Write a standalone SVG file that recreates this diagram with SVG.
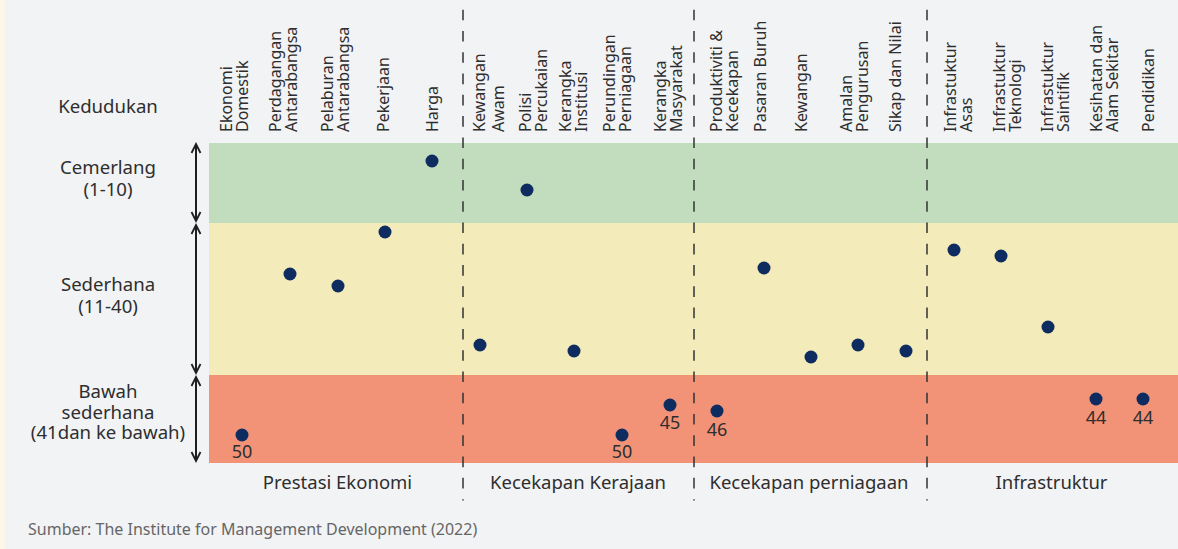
<svg xmlns="http://www.w3.org/2000/svg" width="1178" height="549" viewBox="0 0 1178 549">
<style>
.t{font-family:"Noto Sans","Open Sans","DejaVu Sans",sans-serif;fill:#2e2e2e}
.h{font-size:16px}
.l{font-size:18.6px;text-anchor:middle}
.v{font-size:18px;text-anchor:middle}
.c{font-size:18.5px;text-anchor:middle}
.s{font-size:16px;fill:#666}
.dot{fill:#0e2c60}
.dash{stroke:#333;stroke-width:1.5;stroke-dasharray:10.6 10.68;fill:none}
.arr{stroke:#1e1e1e;stroke-width:2;fill:none;marker-start:url(#ah);marker-end:url(#ah)}
</style>
<defs>
<marker id="ah" viewBox="-10 -6 12 12" refX="0" refY="0" markerWidth="12" markerHeight="12" markerUnits="userSpaceOnUse" orient="auto-start-reverse">
<polyline points="-9,-4.5 0,0 -9,4.5" fill="none" stroke="#1e1e1e" stroke-width="1.8"/>
</marker>
</defs>
<rect x="0" y="0" width="1178" height="549" fill="#f2f3f5"/>
<rect x="0" y="0" width="5" height="549" fill="#fcf7e6"/>
<g id="bands">
<rect x="209" y="143" width="969" height="80" fill="#c1ddbd"/>
<rect x="209" y="223" width="969" height="152" fill="#f3ebb9"/>
<rect x="209" y="375" width="969" height="88" fill="#f29378"/>
</g>
<g id="axis-labels">
<text class="t l" x="108" y="113">Kedudukan</text>
<text class="t l" x="108" y="174">Cemerlang</text>
<text class="t l" x="108" y="196">(1-10)</text>
<text class="t l" x="108" y="290.5">Sederhana</text>
<text class="t l" x="108" y="312.5">(11-40)</text>
<text class="t l" x="108" y="398">Bawah</text>
<text class="t l" x="108" y="418.5">sederhana</text>
<text class="t l" x="108" y="439">(41dan ke bawah)</text>
</g>
<g id="connectors">
<line class="arr" x1="196" y1="144" x2="196" y2="221"/>
<line class="arr" x1="196" y1="225" x2="196" y2="373"/>
<line class="arr" x1="196" y1="377" x2="196" y2="461"/>
<line class="dash" x1="463" y1="9.7" x2="463" y2="500.5"/>
<line class="dash" x1="694" y1="9.7" x2="694" y2="500.5"/>
<line class="dash" x1="927" y1="9.7" x2="927" y2="500.5"/>
</g>
<g id="n-ekonomi-domestik">
<text class="t h" transform="translate(231.5,132) rotate(-90)"><tspan x="0" y="0">Ekonomi</tspan><tspan x="0" y="16">Domestik</tspan></text>
<circle class="dot" cx="242" cy="435" r="6.5"/>
<text class="t v" x="242" y="458">50</text>
</g>
<g id="n-perdagangan">
<text class="t h" transform="translate(281,132) rotate(-90)"><tspan x="0" y="0">Perdagangan</tspan><tspan x="0" y="16">Antarabangsa</tspan></text>
<circle class="dot" cx="290" cy="274" r="6.5"/>
</g>
<g id="n-pelaburan">
<text class="t h" transform="translate(332.5,132) rotate(-90)"><tspan x="0" y="0">Pelaburan</tspan><tspan x="0" y="16">Antarabangsa</tspan></text>
<circle class="dot" cx="338" cy="286" r="6.5"/>
</g>
<g id="n-pekerjaan">
<text class="t h" transform="translate(389,132) rotate(-90)">Pekerjaan</text>
<circle class="dot" cx="385" cy="232" r="6.5"/>
</g>
<g id="n-harga">
<text class="t h" transform="translate(437.5,132) rotate(-90)">Harga</text>
<circle class="dot" cx="432" cy="161" r="6.5"/>
</g>
<g id="n-kewangan-awam">
<text class="t h" transform="translate(485,132) rotate(-90)"><tspan x="0" y="0">Kewangan</tspan><tspan x="0" y="18.5">Awam</tspan></text>
<circle class="dot" cx="480" cy="345" r="6.5"/>
</g>
<g id="n-polisi-percukaian">
<text class="t h" transform="translate(531,132) rotate(-90)"><tspan x="0" y="0">Polisi</tspan><tspan x="0" y="16">Percukaian</tspan></text>
<circle class="dot" cx="527" cy="190" r="6.5"/>
</g>
<g id="n-kerangka-institusi">
<text class="t h" transform="translate(571,132) rotate(-90)"><tspan x="0" y="0">Kerangka</tspan><tspan x="0" y="16">Institusi</tspan></text>
<circle class="dot" cx="574" cy="351" r="6.5"/>
</g>
<g id="n-perundingan-perniagaan">
<text class="t h" transform="translate(614.5,132) rotate(-90)"><tspan x="0" y="0">Perundingan</tspan><tspan x="0" y="16">Perniagaan</tspan></text>
<circle class="dot" cx="622" cy="435" r="6.5"/>
<text class="t v" x="622" y="458">50</text>
</g>
<g id="n-kerangka-masyarakat">
<text class="t h" transform="translate(665.5,132) rotate(-90)"><tspan x="0" y="0">Kerangka</tspan><tspan x="0" y="16">Masyarakat</tspan></text>
<circle class="dot" cx="670" cy="405" r="6.5"/>
<text class="t v" x="670" y="429">45</text>
</g>
<g id="n-produktiviti">
<text class="t h" transform="translate(722,132) rotate(-90)"><tspan x="0" y="0">Produktiviti &amp;</tspan><tspan x="0" y="16">Kecekapan</tspan></text>
<circle class="dot" cx="717" cy="411" r="6.5"/>
<text class="t v" x="717" y="435.5">46</text>
</g>
<g id="n-pasaran-buruh">
<text class="t h" transform="translate(765.5,132) rotate(-90)">Pasaran Buruh</text>
<circle class="dot" cx="764" cy="268" r="6.5"/>
</g>
<g id="n-kewangan">
<text class="t h" transform="translate(806.5,132) rotate(-90)">Kewangan</text>
<circle class="dot" cx="811" cy="357" r="6.5"/>
</g>
<g id="n-amalan-pengurusan">
<text class="t h" transform="translate(852,132) rotate(-90)"><tspan x="0" y="0">Amalan</tspan><tspan x="0" y="16">Pengurusan</tspan></text>
<circle class="dot" cx="858" cy="345" r="6.5"/>
</g>
<g id="n-sikap-dan-nilai">
<text class="t h" transform="translate(900.5,132) rotate(-90)">Sikap dan Nilai</text>
<circle class="dot" cx="906" cy="351" r="6.5"/>
</g>
<g id="n-infra-asas">
<text class="t h" transform="translate(955.5,132) rotate(-90)"><tspan x="0" y="0">Infrastuktur</tspan><tspan x="0" y="16">Asas</tspan></text>
<circle class="dot" cx="954" cy="250" r="6.5"/>
</g>
<g id="n-infra-teknologi">
<text class="t h" transform="translate(1004.5,132) rotate(-90)"><tspan x="0" y="0">Infrastuktur</tspan><tspan x="0" y="16">Teknologi</tspan></text>
<circle class="dot" cx="1001" cy="256" r="6.5"/>
</g>
<g id="n-infra-saintifik">
<text class="t h" transform="translate(1053,132) rotate(-90)"><tspan x="0" y="0">Infrastuktur</tspan><tspan x="0" y="16">Saintifik</tspan></text>
<circle class="dot" cx="1048" cy="327" r="6.5"/>
</g>
<g id="n-kesihatan">
<text class="t h" transform="translate(1102,132) rotate(-90)"><tspan x="0" y="0">Kesihatan dan</tspan><tspan x="0" y="16">Alam Sekitar</tspan></text>
<circle class="dot" cx="1096" cy="399" r="6.5"/>
<text class="t v" x="1096" y="424">44</text>
</g>
<g id="n-pendidikan">
<text class="t h" transform="translate(1154,132) rotate(-90)">Pendidikan</text>
<circle class="dot" cx="1143" cy="399" r="6.5"/>
<text class="t v" x="1143" y="424">44</text>
</g>
<g id="categories">
<text class="t c" x="337.5" y="489">Prestasi Ekonomi</text>
<text class="t c" x="578" y="489">Kecekapan Kerajaan</text>
<text class="t c" x="809" y="489">Kecekapan perniagaan</text>
<text class="t c" x="1051.5" y="489">Infrastruktur</text>
</g>
<text class="t s" x="28" y="535">Sumber: The Institute for Management Development (2022)</text>
</svg>
